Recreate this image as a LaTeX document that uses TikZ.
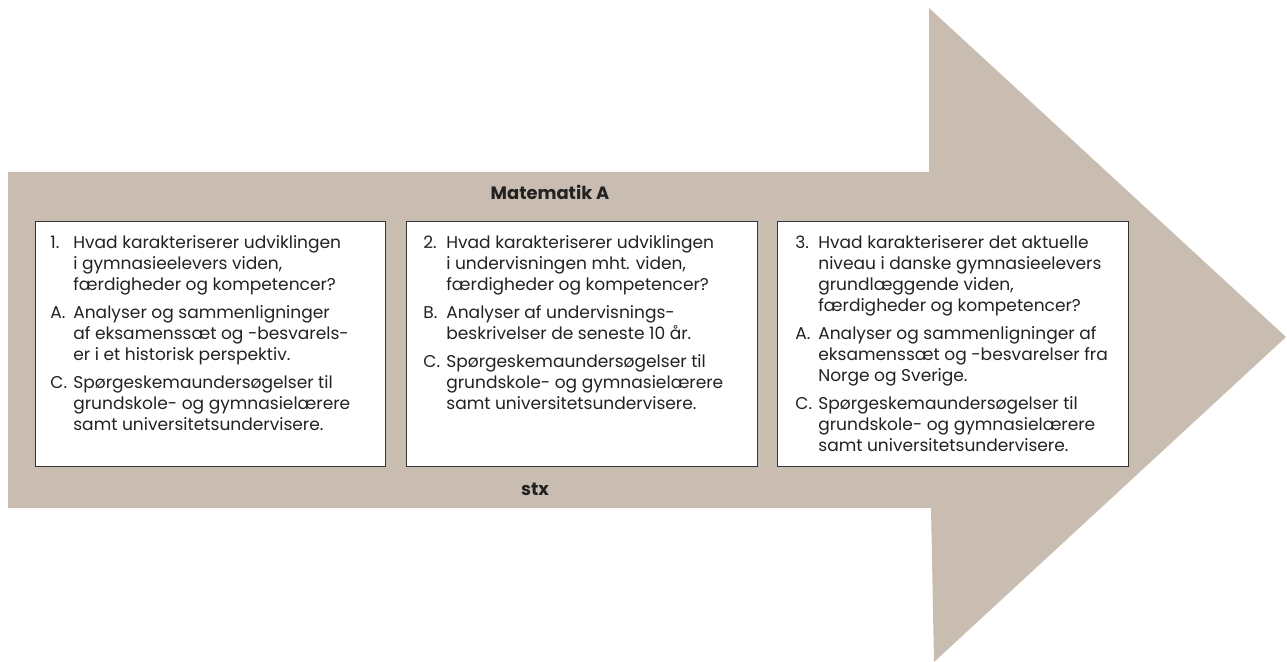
\documentclass[tikz,border=0pt]{standalone}
\usepackage{fontspec}
\setmainfont{Poppins}
\usetikzlibrary{positioning}

\definecolor{arrowfill}{HTML}{C9BCB1}
\definecolor{inktext}{HTML}{222222}
\definecolor{boxline}{HTML}{333333}

% label column of the question lists
\newlength{\qlabw}
\setlength{\qlabw}{0.46cm}
\newcommand{\qrow}[2]{\makebox[\qlabw][l]{#1}#2}

\begin{document}
\begin{tikzpicture}[
    x=0.02cm, y=-0.02cm,
    qbox/.style={draw=boxline, fill=white, line width=0.6pt, anchor=north west,
                 minimum height=4.9cm, inner sep=0pt},
    qtext/.style={anchor=north west, align=left, inner sep=0pt, text=inktext,
                  font=\fontsize{9.7}{11.95}\selectfont},
    head/.style={font=\fontsize{10.2}{12}\selectfont\bfseries, text=inktext}
]
    \useasboundingbox (0,0) rectangle (1287,662);

    % ---- big arrow ----
    \fill[arrowfill] (8,172) -- (929,172) -- (929,8) -- (1286,337)
        -- (934,662) -- (931,508) -- (8,508) -- cycle;

    % ---- headings ----
    \node[head] (title) at (550,192) {Matematik A};
    \node[head] (track) at (535,489) {stx};

    % ---- boxes ----
    \node[qbox, minimum width=7cm]    (box1) at (35,221)  {};
    \node[qbox, minimum width=7.02cm] (box2) at (406,221) {};
    \node[qbox, minimum width=7.02cm] (box3) at (777,221) {};

    % ================= question 1 =================
    \node[qtext] (q1) at (50,235) {%
        \qrow{1.}{Hvad karakteriserer udviklingen}\\
        \qrow{}{i gymnasieelevers viden,}\\
        \qrow{}{færdigheder og kompetencer?}\\[4pt]
        \qrow{A.}{Analyser og sammenligninger}\\
        \qrow{}{af eksamenssæt og -besvarels-}\\
        \qrow{}{er i et historisk perspektiv.}\\[4pt]
        \qrow{C.}{Spørgeskemaundersøgelser til}\\
        \qrow{}{grundskole- og gymnasielærere}\\
        \qrow{}{samt universitetsundervisere.}};

    % ================= question 2 =================
    \node[qtext] (q2) at (423,235) {%
        \qrow{2.}{Hvad karakteriserer udviklingen}\\
        \qrow{}{i undervisningen mht. viden,}\\
        \qrow{}{færdigheder og kompetencer?}\\[4pt]
        \qrow{B.}{Analyser af undervisnings-}\\
        \qrow{}{beskrivelser de seneste 10 år.}\\[4pt]
        \qrow{C.}{Spørgeskemaundersøgelser til}\\
        \qrow{}{grundskole- og gymnasielærere}\\
        \qrow{}{samt universitetsundervisere.}};

    % ================= question 3 =================
    \node[qtext] (q3) at (795,235) {%
        \qrow{3.}{Hvad karakteriserer det aktuelle}\\
        \qrow{}{niveau i danske gymnasieelevers}\\
        \qrow{}{grundlæggende viden,}\\
        \qrow{}{færdigheder og kompetencer?}\\[4pt]
        \qrow{A.}{Analyser og sammenligninger af}\\
        \qrow{}{eksamenssæt og -besvarelser fra}\\
        \qrow{}{Norge og Sverige.}\\[4pt]
        \qrow{C.}{Spørgeskemaundersøgelser til}\\
        \qrow{}{grundskole- og gymnasielærere}\\
        \qrow{}{samt universitetsundervisere.}};
\end{tikzpicture}
\end{document}
